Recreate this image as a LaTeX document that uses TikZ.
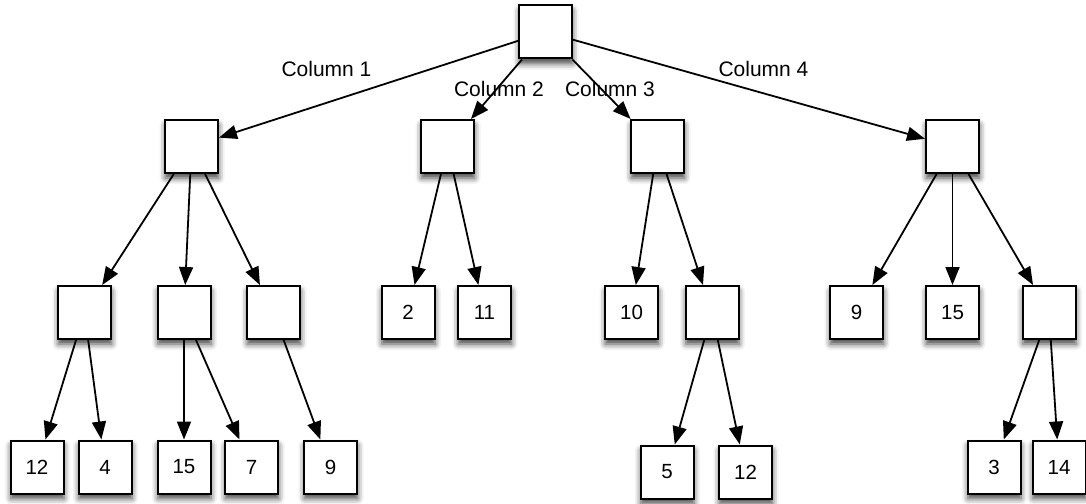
\documentclass[tikz,border=0pt]{standalone}
\usepackage{fontspec}
\setmainfont{Liberation Sans}
\usetikzlibrary{arrows.meta,shadows.blur}
\tikzset{
  treebox/.style={draw=black, fill=white, line width=2pt, minimum width=53pt, minimum height=53pt, inner sep=0pt, font=\fontsize{20.5}{24}\selectfont,
    blur shadow={shadow xshift=0.5pt, shadow yshift=-5pt, shadow blur radius=6pt, shadow opacity=75}},
  edge/.style={line width=1.8pt, -{Triangle[length=18pt,width=14pt]}},
  collabel/.style={font=\fontsize{21}{24}\selectfont, inner sep=0pt, anchor=base}
}
\begin{document}
\begin{tikzpicture}[x=1pt,y=-1pt]
\useasboundingbox (0,0) rectangle (1086,503);
% root
\node[treebox] (r) at (545.5,32) {};
% level 1
\node[treebox] (a) at (191.5,146.5) {};
\node[treebox] (b) at (447.5,146.5) {};
\node[treebox] (c) at (657.5,146.5) {};
\node[treebox] (d) at (952.5,146.5) {};
% level 2
\node[treebox] (a1) at (84.5,312.5) {};
\node[treebox] (a2) at (184,312.5) {};
\node[treebox] (a3) at (273.5,312.5) {};
\node[treebox] (b1) at (408,312.5) {2};
\node[treebox] (b2) at (484.5,312.5) {11};
\node[treebox] (c1) at (631.5,312.5) {10};
\node[treebox] (c2) at (712,312.5) {};
\node[treebox] (d1) at (856.5,312.5) {9};
\node[treebox] (d2) at (952.5,312.5) {15};
\node[treebox] (d3) at (1049,312.5) {};
% level 3
\node[treebox] (a11) at (37,467) {12};
\node[treebox] (a12) at (105,467) {4};
\node[treebox] (a21) at (184,467) {15};
\node[treebox] (a22) at (251.5,467) {7};
\node[treebox] (a31) at (330.5,467) {9};
\node[treebox] (c21) at (667,472) {5};
\node[treebox] (c22) at (745.5,472) {12};
\node[treebox] (d31) at (994,467) {3};
\node[treebox] (d32) at (1059,467) {14};
% edges
\draw[edge] (r) -- (a);
\draw[edge] (r) -- (b);
\draw[edge] (r) -- (c);
\draw[edge] (r) -- (d);
\draw[edge] (a) -- (a1);
\draw[edge] (a) -- (a2);
\draw[edge] (a) -- (a3);
\draw[edge] (b) -- (b1);
\draw[edge] (b) -- (b2);
\draw[edge] (c) -- (c1);
\draw[edge] (c) -- (c2);
\draw[edge] (d) -- (d1);
\draw[edge] (d) -- (d2);
\draw[edge] (d) -- (d3);
\draw[edge] (a1) -- (a11);
\draw[edge] (a1) -- (a12);
\draw[edge] (a2) -- (a21);
\draw[edge] (a2) -- (a22);
\draw[edge] (a3) -- (a31);
\draw[edge] (c2) -- (c21);
\draw[edge] (c2) -- (c22);
\draw[edge] (d3) -- (d31);
\draw[edge] (d3) -- (d32);
% labels
\node[collabel] (l1) at (326.5,76) {Column 1};
\node[collabel] (l2) at (499,96) {Column 2};
\node[collabel] (l3) at (610,96) {Column 3};
\node[collabel] (l4) at (763.5,76) {Column 4};
\end{tikzpicture}
\end{document}
